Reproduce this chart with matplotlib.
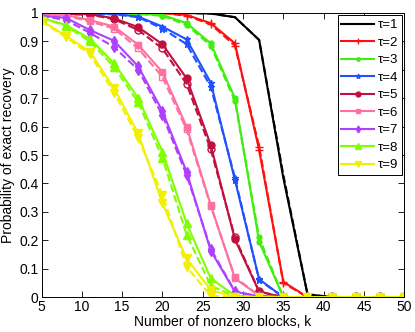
import numpy as np
import matplotlib
matplotlib.use('Agg')
import matplotlib.pyplot as plt

plt.rcParams['font.family'] = ['Liberation Sans', 'DejaVu Sans']

# number of nonzero blocks
k = [5, 8, 11, 14, 17, 20, 23, 26, 29, 32, 35, 38, 41, 44, 47, 50]

# simulated (solid) curves, one per tau
p1 = [1, 1, 1, 1, 1, 1, 1, 0.998, 0.985, 0.905, 0.42, 0.01, 0, 0, 0, 0]
p2 = [1, 1, 1, 1, 1, 1, 0.993, 0.964, 0.893, 0.518, 0.054, 0, 0, 0, 0, 0]
p3 = [1, 1, 1, 0.999, 0.997, 0.993, 0.964, 0.893, 0.70, 0.195, 0, 0, 0, 0, 0, 0]
p4 = [1, 0.999, 0.998, 0.997, 0.987, 0.952, 0.907, 0.755, 0.412, 0.063, 0, 0, 0, 0, 0, 0]
p5 = [0.998, 0.996, 0.996, 0.981, 0.95, 0.89, 0.77, 0.535, 0.203, 0.019, 0, 0, 0, 0, 0, 0]
p6 = [0.995, 0.993, 0.975, 0.952, 0.888, 0.792, 0.60, 0.324, 0.066, 0.005, 0, 0, 0, 0, 0, 0]
p7 = [0.99, 0.983, 0.94, 0.902, 0.812, 0.655, 0.441, 0.163, 0.019, 0.003, 0, 0, 0, 0, 0, 0]
p8 = [0.983, 0.958, 0.909, 0.823, 0.70, 0.512, 0.26, 0.066, 0.005, 0, 0, 0, 0, 0, 0, 0]
p9 = [0.973, 0.92, 0.864, 0.735, 0.576, 0.33, 0.136, 0.025, 0, 0, 0, 0, 0, 0, 0, 0]

# second (dashed) set of curves
d1 = [1, 1, 1, 1, 1, 1, 1, 0.998, 0.985, 0.905, 0.43, 0.01, 0, 0, 0, 0]
d2 = [1, 1, 1, 1, 1, 1, 0.99, 0.96, 0.885, 0.53, 0.05, 0, 0, 0, 0, 0]
d3 = [1, 1, 1, 1, 0.996, 0.99, 0.958, 0.885, 0.69, 0.21, 0, 0, 0, 0, 0, 0]
d4 = [1, 0.998, 0.997, 0.995, 0.985, 0.945, 0.89, 0.74, 0.42, 0.06, 0, 0, 0, 0, 0, 0]
d5 = [0.998, 0.995, 0.994, 0.978, 0.94, 0.875, 0.75, 0.52, 0.21, 0.02, 0, 0, 0, 0, 0, 0]
d6 = [0.993, 0.99, 0.97, 0.945, 0.875, 0.775, 0.59, 0.32, 0.07, 0.005, 0, 0, 0, 0, 0, 0]
d7 = [0.99, 0.975, 0.93, 0.88, 0.80, 0.64, 0.43, 0.17, 0.02, 0.002, 0, 0, 0, 0, 0, 0]
d8 = [0.983, 0.955, 0.90, 0.81, 0.685, 0.49, 0.22, 0.04, 0.003, 0, 0, 0, 0, 0, 0, 0]
d9 = [0.97, 0.915, 0.855, 0.72, 0.56, 0.36, 0.107, 0.005, 0, 0, 0, 0, 0, 0, 0, 0]

solid = [p1, p2, p3, p4, p5, p6, p7, p8, p9]
dashed = [d1, d2, d3, d4, d5, d6, d7, d8, d9]
labels = ['\u03c4=%d' % t for t in range(1, 10)]

colors = ['#000000', '#ff1010', '#40ee10', '#2050ff', '#c0103f',
          '#ff70a0', '#b040ff', '#80ff00', '#f0f000']
markers = ['', '+', '.', '*', 'o', 's', 'd', '^', 'v']
msizes = [0, 6, 7, 5, 5, 4.5, 5, 6, 6]

fig = plt.figure(figsize=(4.15, 3.32), dpi=100)
ax = fig.add_axes([0.1, 0.105, 0.874, 0.856])

for i in range(9):
    ax.plot(k, dashed[i], color=colors[i], ls='--', lw=1.5,
            marker=markers[i], ms=msizes[i], mfc='none' if markers[i] in 'os' else colors[i],
            mec=colors[i])
for i in range(9):
    ax.plot(k, solid[i], color=colors[i], ls='-', lw=1.5,
            marker=markers[i], ms=msizes[i], mec=colors[i], label=labels[i])

ax.set_xlim(5, 50)
ax.set_ylim(0, 1)
ax.set_xticks(np.arange(5, 51, 5))
ax.set_yticks(np.arange(0, 1.01, 0.1))
ax.set_yticklabels(['0', '0.1', '0.2', '0.3', '0.4', '0.5', '0.6', '0.7', '0.8', '0.9', '1'])
ax.tick_params(direction='in', top=True, right=True, length=4, width=0.6, labelsize=10, pad=2)
for s in ax.spines.values():
    s.set_linewidth(0.7)

ax.set_xlabel('Number of nonzero blocks, k', fontsize=10, labelpad=1)
ax.set_ylabel('Probability of exact recovery', fontsize=10, labelpad=3)

leg = ax.legend(loc='upper right', fontsize=9.5, fancybox=False, edgecolor='black',
                framealpha=1, handlelength=2.5, handletextpad=0.25, labelspacing=0.4,
                borderpad=0.3, borderaxespad=0.15, markerscale=0.7)
leg.get_frame().set_linewidth(0.7)

fig.savefig('out.png', dpi=100)
